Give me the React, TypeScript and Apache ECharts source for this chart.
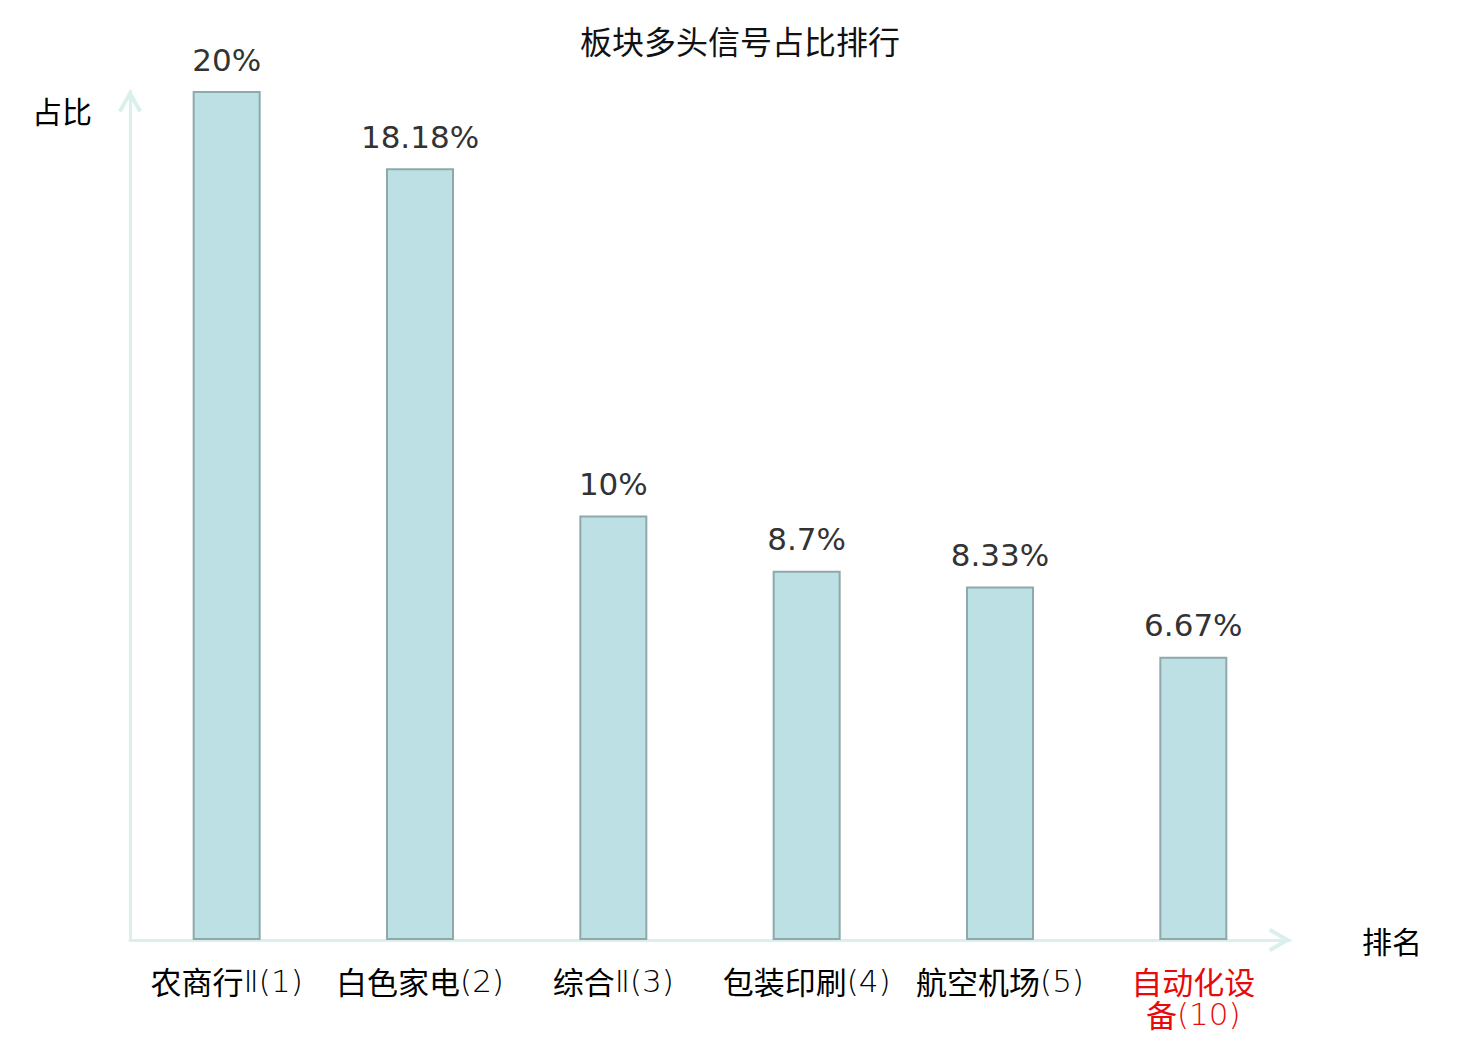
import React, { useEffect, useRef } from "react";
import * as echarts from "echarts";

const titleText = "板块多头信号占比排行";
const sectorNames = ["农商行Ⅱ", "白色家电", "综合Ⅱ", "包装印刷", "航空机场", "自动化设备"];
const sectorRanks = [1, 2, 3, 4, 5, 10];
const shareValues = [20, 18.18, 10, 8.7, 8.33, 6.67];
const highlightRanks = [10];
const yAxisName = "占比";
const xAxisName = "排名";

const categories = sectorNames.map((n, i) => `${n}(${sectorRanks[i]})`);

const chevron =
  "path://M0,21 L12,0 L24,21 L20.53,22.98 L12,8.05 L3.47,22.98 Z";

const labelFont = "'DejaVu Sans', 'Noto Sans CJK SC', sans-serif";
const black = "#000";
const red = "#e8090a";

function wrapLine(text: string, hl: boolean): string {
  // split into CJK runs (regular) and latin runs (light)
  const parts = text.match(/[\u2160-\u216F()0-9]+|[^\u2160-\u216F()0-9]+/g) || [];
  return parts
    .map((p) => {
      const light = /^[\u2160-\u216F()0-9]+$/.test(p);
      const key = (light ? "l" : "c") + (hl ? "h" : "");
      return `{${key}|${p}}`;
    })
    .join("");
}

export default function App() {
  const ref = useRef<HTMLDivElement>(null);
  useEffect(() => {
    if (!ref.current) return;
    const chart = echarts.init(ref.current, null, { renderer: "svg" });
    const axisLine = {
      show: true,
      symbol: ["none", chevron],
      symbolSize: [24, 23],
      symbolOffset: [0, -10],
      lineStyle: { color: "#daf0ec", width: 3 },
    };
    const fs = 31;
    const lh = 33;
    chart.setOption({
      animation: false,
      backgroundColor: "#ffffff",
      title: {
        text: titleText,
        left: "center",
        top: 19,
        textStyle: {
          fontFamily: "Noto Sans CJK SC",
          fontSize: 32,
          fontWeight: "normal",
          color: "#111",
        },
      },
      grid: { left: 130, right: 190, top: 91, bottom: 100, containLabel: false },
      xAxis: {
        type: "category",
        data: categories,
        name: xAxisName,
        nameLocation: "end",
        nameGap: 72,
        nameTextStyle: {
          fontFamily: "Noto Sans CJK SC",
          fontSize: 30,
          color: "#000",
          verticalAlign: "middle",
        },
        axisLine,
        axisTick: { show: false },
        axisLabel: {
          interval: 0,
          margin: 24,
          fontFamily: labelFont,
          fontSize: fs,
          lineHeight: lh,
          color: black,
          formatter: (_v: string, idx: number) => {
            const n = sectorNames[idx];
            const hl = highlightRanks.includes(sectorRanks[idx]);
            const head = n.slice(0, 4);
            const tail = n.slice(4);
            const rank = `(${sectorRanks[idx]})`;
            return tail
              ? `${wrapLine(head, hl)}\n${wrapLine(tail + rank, hl)}`
              : wrapLine(head + rank, hl);
          },
          rich: {
            c: { fontFamily: "Noto Sans CJK SC", fontWeight: 400, fontSize: fs, lineHeight: lh, color: black },
            l: { fontFamily: labelFont, fontWeight: 300, fontSize: fs, lineHeight: lh, color: black },
            ch: { fontFamily: "Noto Sans CJK SC", fontWeight: 400, fontSize: fs, lineHeight: lh, color: red },
            lh: { fontFamily: labelFont, fontWeight: 300, fontSize: fs, lineHeight: lh, color: red },
          },
        },
        splitLine: { show: false },
      },
      yAxis: {
        type: "value",
        min: 0,
        max: 20,
        name: yAxisName,
        nameLocation: "end",
        nameGap: -19,
        nameTextStyle: {
          fontFamily: "Noto Sans CJK SC",
          fontSize: 30,
          color: "#000",
          align: "right",
          verticalAlign: "middle",
          padding: [0, 38, 0, 0],
        },
        axisLine,
        axisTick: { show: false },
        axisLabel: { show: false },
        splitLine: { show: false },
      },
      series: [
        {
          type: "bar",
          data: shareValues,
          barWidth: 68,
          itemStyle: {
            color: "#bce0e3",
            borderColor: "#8fa8aa",
            borderWidth: 2,
          },
          label: {
            show: true,
            position: "top",
            distance: 16,
            fontFamily: "DejaVu Sans",
            fontSize: 31,
            color: "#333",
            formatter: (p: any) => `${p.value}%`,
          },
        },
      ],
    });
    return () => chart.dispose();
  }, []);
  return (
    <div
      ref={ref}
      style={{ position: "fixed", left: 0, top: 0, width: 1480, height: 1040 }}
    />
  );
}
